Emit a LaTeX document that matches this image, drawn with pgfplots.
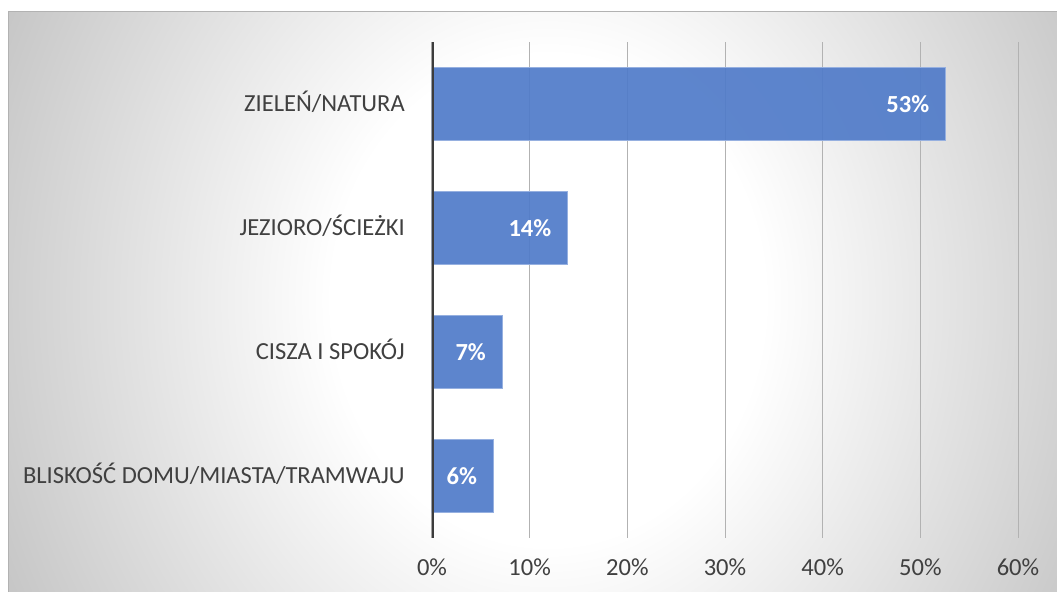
\documentclass[border=0pt]{standalone}
\usepackage{pgfplots}
\pgfplotsset{compat=1.18}
\usepackage{fontspec}
\setmainfont{Carlito}
\definecolor{barblue}{RGB}{80,123,201}
\definecolor{baredge}{RGB}{150,176,224}
\definecolor{txt}{RGB}{64,64,64}
\definecolor{gridc}{RGB}{178,178,178}
\definecolor{axc}{RGB}{60,60,60}
\definecolor{bgout}{RGB}{198,198,198}
\pgfdeclareradialshading{bgshade}{\pgfpoint{0bp}{0bp}}{color(0bp)=(white); color(9bp)=(white); color(25bp)=(bgout); color(50bp)=(bgout)}
\begin{document}
\begin{tikzpicture}[x=0.75pt,y=0.75pt]
\path[use as bounding box] (0,0) rectangle (1057,592);
\begin{scope}
\clip (8,0) rectangle (1057,580);
\fill[bgout] (8,0) rectangle (1057,580);
\shade[shading=bgshade] (548,292) ellipse [x radius=600, y radius=680];
\end{scope}
\draw[gray!60, line width=0.75pt] (8,0) -- (8,580) -- (1057,580);
\begin{axis}[
  at={(324pt,40.5pt)}, anchor=south west, scale only axis,
  width=439.5pt, height=372pt,
  xbar, bar width=54.75pt,
  xmin=0, xmax=60, ymin=-0.5, ymax=3.5, y dir=reverse,
  xtick={0,10,...,60},
  /pgf/number format/assume math mode=true,
  xticklabel={\pgfmathprintnumber{\tick}\%},
  ytick={0,1,2,3},
  yticklabels={ZIELEŃ/NATURA, JEZIORO/ŚCIEŻKI, {CISZA I SPOKÓJ\hspace{6pt}}, BLISKOŚĆ DOMU/MIASTA/TRAMWAJU},
  axis line style={draw=none},
  major tick length=0pt,
  xmajorgrids,
  grid style={gridc, line width=0.75pt},
  tick label style={font=\fontsize{18.4}{22}\selectfont, text=txt, inner sep=0pt},
  xticklabel style={anchor=base, yshift=-28pt},
  yticklabel style={anchor=base east, xshift=-20.25pt, yshift=-5.8pt},
  point meta=explicit symbolic,
  nodes near coords,
  every node near coord/.append style={anchor=base east, xshift=-12pt, yshift=-6.3pt, font=\fontsize{18.4}{22}\selectfont\bfseries, text=white, inner sep=0pt},
]
\addplot[fill=barblue, fill opacity=0.92, draw=baredge, line width=0.75pt, text opacity=1] coordinates {
  (52.6,0) [53\%]
  (13.9,1) [14\%]
  (7.2,2) [7\%]
  (6.3,3) [6\%]
};
\draw[axc, line width=2.5pt] (axis cs:0,-0.5) -- (axis cs:0,3.5);
\end{axis}
\end{tikzpicture}
\end{document}
